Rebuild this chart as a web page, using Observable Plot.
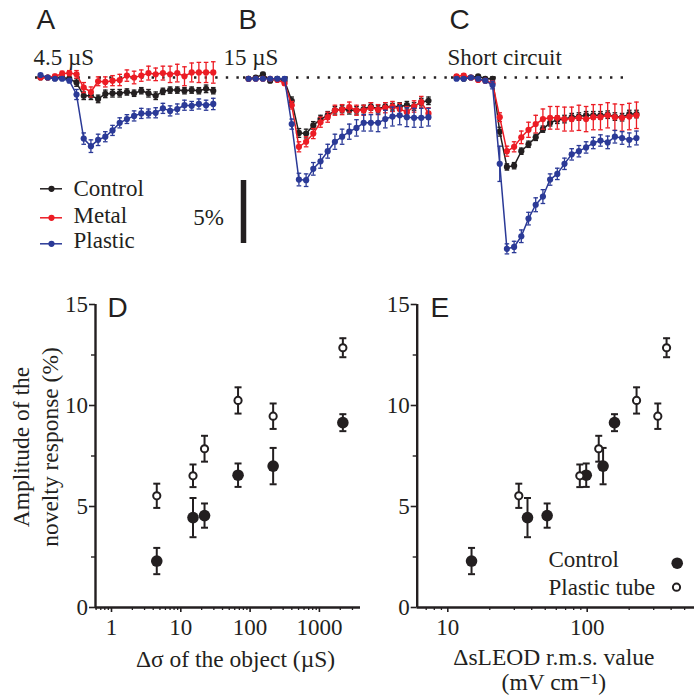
<!DOCTYPE html>
<html>
<head>
<meta charset="utf-8">
<script src="https://cdn.jsdelivr.net/npm/d3@7"></script>
<script src="https://cdn.jsdelivr.net/npm/@observablehq/plot@0.6"></script>
<style>
  html, body { margin: 0; padding: 0; background: #fff; overflow: hidden; }
  #fig { position: relative; width: 694px; height: 698px; background: #fff; }
  #fig svg { position: absolute; max-width: none; }
</style>
</head>
<body>
<div id="fig"></div>
<script>
// ---------------- Data: panels A–C (time course, % change) ----------------
const seriesNames = ["Control", "Metal", "Plastic"];
const seriesColors = ["#231f20", "#ec1c24", "#2b3a97"];
const panelIds = ["A", "B", "C"];
const panelConditions = ["4.5 µS", "15 µS", "Short circuit"];

const ctrlA = [0, 0, -0.05, 0, -0.1, -0.4, -1.45, -1.45, -1.7, -1.3, -1.25, -1.25, -1.15, -1.25, -1.05, -1.25, -1.45, -1.1, -1.0, -1.0, -1.05, -1.0, -1.05, -0.9, -1.05];
const ctrlAErr = [0.1, 0.1, 0.1, 0.1, 0.15, 0.3, 0.3, 0.3, 0.3, 0.3, 0.3, 0.3, 0.25, 0.25, 0.25, 0.3, 0.3, 0.25, 0.25, 0.25, 0.25, 0.25, 0.25, 0.3, 0.25];
const metalA = [0, 0, 0.1, 0.3, 0.35, 0.25, -0.8, -1.15, -0.3, -0.35, -0.25, -0.2, 0.15, 0, 0.15, 0.35, 0.25, 0.35, 0.25, 0.35, 0.1, 0.4, 0.4, 0.4, 0.4];
const metalAErr = [0.15, 0.15, 0.15, 0.2, 0.2, 0.3, 0.4, 0.4, 0.35, 0.4, 0.4, 0.45, 0.45, 0.5, 0.45, 0.55, 0.5, 0.55, 0.65, 0.7, 0.75, 0.75, 0.8, 0.8, 0.85];
const plasticA = [0.2, 0, -0.1, -0.1, -0.25, -1.35, -4.85, -5.45, -4.95, -4.7, -4.2, -3.6, -3.3, -3.05, -2.85, -2.85, -2.8, -2.45, -2.65, -2.5, -2.2, -2.25, -2.1, -2.2, -2.1];
const plasticAErr = [0.1, 0.1, 0.1, 0.1, 0.15, 0.4, 0.45, 0.5, 0.45, 0.4, 0.4, 0.4, 0.35, 0.4, 0.4, 0.35, 0.4, 0.4, 0.4, 0.4, 0.4, 0.35, 0.4, 0.4, 0.45];

const ctrlB = [-0.1, 0, 0.25, -0.25, -0.1, -0.25, -1.85, -4.4, -4.45, -3.8, -3.3, -3.0, -2.6, -2.5, -2.6, -2.6, -2.5, -2.3, -2.5, -2.3, -2.35, -2.3, -2.2, -2.3, -1.95, -1.85];
const ctrlBErr = [0.1, 0.1, 0.15, 0.15, 0.1, 0.15, 0.3, 0.35, 0.35, 0.3, 0.3, 0.3, 0.3, 0.3, 0.3, 0.3, 0.3, 0.3, 0.3, 0.3, 0.3, 0.3, 0.3, 0.3, 0.3, 0.3];
const metalB = [-0.1, -0.1, -0.1, -0.1, -0.2, -0.45, -2.2, -5.5, -5.1, -4.45, -3.55, -3.15, -2.6, -2.55, -2.35, -2.6, -2.6, -2.4, -2.55, -2.4, -2.3, -2.5, -2.75, -2.3, -1.95, -2.85];
const metalBErr = [0.1, 0.1, 0.1, 0.1, 0.1, 0.15, 0.3, 0.4, 0.4, 0.4, 0.4, 0.4, 0.4, 0.4, 0.4, 0.4, 0.4, 0.4, 0.4, 0.4, 0.4, 0.45, 0.45, 0.45, 0.45, 0.45];
const plasticB = [-0.1, -0.1, -0.1, -0.1, -0.1, -0.1, -3.7, -8.1, -8.15, -7.25, -6.65, -5.85, -5.1, -4.7, -4.3, -4.0, -3.6, -3.6, -3.6, -3.3, -3.1, -3.0, -3.15, -3.2, -3.2, -3.15];
const plasticBErr = [0.1, 0.1, 0.1, 0.1, 0.1, 0.15, 0.4, 0.5, 0.5, 0.5, 0.55, 0.55, 0.6, 0.6, 0.6, 0.65, 0.65, 0.65, 0.7, 0.7, 0.75, 0.75, 0.75, 0.75, 0.75, 0.7];

const ctrlC = [0, -0.1, 0, 0.1, -0.1, -0.1, -4.3, -7.1, -7.0, -5.85, -5.3, -4.75, -4.1, -3.6, -3.35, -3.3, -3.15, -3.1, -3.0, -3.0, -3.0, -2.95, -3.1, -3.15, -2.9, -2.9];
const ctrlCErr = [0.1, 0.1, 0.1, 0.1, 0.1, 0.15, 0.35, 0.25, 0.25, 0.25, 0.25, 0.25, 0.25, 0.25, 0.3, 0.3, 0.3, 0.3, 0.3, 0.3, 0.3, 0.3, 0.3, 0.3, 0.3, 0.3];
const metalC = [0.1, 0.15, 0, -0.2, -0.25, -0.45, -3.15, -5.85, -5.5, -4.75, -4.15, -3.7, -3.3, -3.2, -3.2, -3.3, -3.3, -3.2, -3.3, -3.15, -3.15, -3.0, -3.15, -3.2, -3.1, -3.0];
const metalCErr = [0.1, 0.15, 0.1, 0.1, 0.15, 0.15, 0.35, 0.4, 0.4, 0.5, 0.6, 0.7, 0.8, 0.9, 0.9, 0.95, 0.95, 1.0, 1.0, 1.0, 1.0, 1.0, 1.05, 1.05, 1.05, 1.05];
const plasticC = [-0.1, -0.1, 0, -0.1, -0.25, -0.6, -6.85, -13.6, -13.45, -12.6, -11.2, -10.1, -9.45, -8.1, -7.65, -6.85, -6.1, -5.85, -5.55, -5.2, -5.0, -5.15, -4.7, -4.8, -4.95, -4.8];
const plasticCErr = [0.1, 0.1, 0.1, 0.1, 0.15, 0.3, 1.4, 0.4, 0.45, 0.5, 0.5, 0.55, 0.55, 0.45, 0.45, 0.45, 0.45, 0.45, 0.45, 0.45, 0.45, 0.5, 0.5, 0.5, 0.55, 0.55];

// ---------------- Data: panels D–E ----------------
const groupNames = ["Control", "Plastic tube"];
const deltaSigma = [4.5, 15, 22, 67, 215, 2180];
const controlAmp = [2.3, 4.45, 4.55, 6.55, 7.0, 9.15];
const controlErr = [0.65, 0.97, 0.6, 0.58, 0.9, 0.42];
const plasticAmp = [5.53, 6.52, 7.86, 10.25, 9.47, 12.86];
const plasticErr = [0.6, 0.56, 0.64, 0.65, 0.63, 0.47];
const controlLEOD = [14.8, 37.3, 51.6, 98.4, 130, 157];
const plasticLEOD = [32.3, 88.5, 121, 226, 321, 371];
const yTicks = [0, 5, 10, 15];
const yMinorTicks = [2.5, 7.5, 12.5];
const dTicks = [1, 10, 100, 1000];
const eTicks = [10, 100];

// ---------------- Build tables ----------------
const traceSource = {
  A: {Control: [ctrlA, ctrlAErr], Metal: [metalA, metalAErr], Plastic: [plasticA, plasticAErr]},
  B: {Control: [ctrlB, ctrlBErr], Metal: [metalB, metalBErr], Plastic: [plasticB, plasticBErr]},
  C: {Control: [ctrlC, ctrlCErr], Metal: [metalC, metalCErr], Plastic: [plasticC, plasticCErr]}
};
const traceRows = [];
for (const p of panelIds) for (const s of seriesNames) {
  const [vals, errs] = traceSource[p][s];
  vals.forEach((v, i) => traceRows.push({panel: p, series: s, i, v, e: errs[i]}));
}
const scatterRows = [
  ...deltaSigma.map((s, k) => ({group: groupNames[0], sigma: s, leod: controlLEOD[k], amp: controlAmp[k], err: controlErr[k]})),
  ...deltaSigma.map((s, k) => ({group: groupNames[1], sigma: s, leod: plasticLEOD[k], amp: plasticAmp[k], err: plasticErr[k]}))
];

const ink = "#231f20";
const serif = "Liberation Serif, DejaVu Serif, serif";
const sans = "Liberation Sans, Arial, sans-serif";
const baseStyle = {fontFamily: serif, fontSize: "23px", color: ink, background: "transparent", overflow: "visible"};
const T = {fontFamily: serif, fill: ink};
const capSymbol = {draw(ctx, size) { const r = Math.sqrt(size / Math.PI); ctx.moveTo(-r, 0); ctx.lineTo(r, 0); }};

// ---------------- Top: panels A–C ----------------
const TW = 694, TH = 270, TML = 35, TMR = 35;
const X0 = -0.7, X1 = 28.2;
const pxPerPct = 12.6;
const Y1 = 77 / pxPerPct, Y0 = Y1 - TH / pxPerPct;
const facetW = (TW - TML - TMR) / panelIds.length;
const kx = facetW / (X1 - X0);
const ky = TH / (Y1 - Y0);
const px2x = (k, px) => X0 + (px - TML - k * facetW) / kx;
const py2y = py => Y1 - py / ky;

const letterRows = panelIds.map((p, k) => ({panel: p, label: p, x: px2x(k, [36, 238, 449][k]), y: py2y(9)}));
const condRows = panelIds.map((p, k) => ({panel: p, label: panelConditions[k], x: px2x(k, [33, 223, 447][k]), y: py2y(64)}));
const baseRows = panelIds.map((p, k) => ({panel: p, x1: X0, x2: k === 2 ? px2x(2, 627) : X1}));
const legendRows = seriesNames.map((s, k) => ({panel: "A", series: s, ySym: py2y([188.3, 217.3, 243.3][k]), yTxt: py2y([195, 222.7, 247.3][k])}));

const seriesMarks = seriesNames.flatMap(s => {
  const rows = traceRows.filter(d => d.series === s);
  return [
    Plot.ruleX(rows, {fx: "panel", x: "i", y1: d => d.v - d.e, y2: d => d.v + d.e, stroke: "series", strokeWidth: 1.3}),
    Plot.dot(rows, {fx: "panel", x: "i", y: d => d.v - d.e, symbol: capSymbol, r: 2.3, stroke: "series", strokeWidth: 1.3}),
    Plot.dot(rows, {fx: "panel", x: "i", y: d => d.v + d.e, symbol: capSymbol, r: 2.3, stroke: "series", strokeWidth: 1.3}),
    Plot.line(rows, {fx: "panel", x: "i", y: "v", stroke: "series", strokeWidth: 1.5}),
    Plot.dot(rows, {fx: "panel", x: "i", y: "v", fill: "series", r: 3.1})
  ];
});

const topPlot = Plot.plot({
  width: TW, height: TH, marginLeft: TML, marginRight: TMR, marginTop: 0, marginBottom: 0,
  fx: {domain: panelIds, padding: 0, axis: null, label: null},
  x: {domain: [X0, X1], axis: null},
  y: {domain: [Y0, Y1], axis: null},
  color: {domain: seriesNames, range: seriesColors},
  style: baseStyle,
  marks: [
    Plot.ruleY(baseRows, {fx: "panel", y: 0, x1: "x1", x2: "x2", stroke: ink, strokeWidth: 2.4, strokeDasharray: "2.4 8.2"}),
    ...seriesMarks,
    Plot.text(letterRows, {fx: "panel", x: "x", y: "y", text: "label", textAnchor: "start", lineAnchor: "top", fontFamily: sans, fontSize: 28, fill: ink}),
    Plot.text(condRows, {...T, fx: "panel", x: "x", y: "y", text: "label", textAnchor: "start", lineAnchor: "bottom", fontSize: 23}),
    Plot.ruleY(legendRows, {fx: "panel", y: "ySym", x1: px2x(0, 40), x2: px2x(0, 62), stroke: "series", strokeWidth: 1.5}),
    Plot.dot(legendRows, {fx: "panel", x: px2x(0, 51), y: "ySym", fill: "series", r: 3.1}),
    Plot.text(legendRows, {...T, fx: "panel", x: px2x(0, 73), y: "yTxt", text: "series", textAnchor: "start", lineAnchor: "bottom", fontSize: 23}),
    Plot.ruleX([{panel: "A"}], {fx: "panel", x: px2x(0, 243), y1: py2y(180), y2: py2y(180) - 5, stroke: ink, strokeWidth: 5.5}),
    Plot.text([{panel: "A"}], {...T, fx: "panel", x: px2x(0, 223.5), y: py2y(224), text: () => "5%", textAnchor: "end", lineAnchor: "bottom", fontSize: 23})
  ]
});

// ---------------- Bottom: panels D & E ----------------
function minorLogTicks([lo, hi]) {
  const t = [];
  for (let e = Math.floor(Math.log10(lo)); e <= Math.ceil(Math.log10(hi)); e++)
    for (let m = 2; m <= 9; m++) { const v = m * 10 ** e; if (v >= lo && v <= hi) t.push(v); }
  return t;
}
function axisMarks(domain, major) {
  return [
    Plot.axisY({ticks: yTicks, tickSize: 6, tickPadding: 1.5, label: null, strokeWidth: 1.6, fontSize: 23, fontFamily: serif, fill: ink}),
    Plot.axisY({ticks: yMinorTicks, tickSize: 4, tickFormat: () => "", label: null, strokeWidth: 1.4}),
    Plot.axisX({ticks: major, tickSize: 5, tickPadding: 6, tickFormat: d => String(d), label: null, strokeWidth: 1.6, fontSize: 23, fontFamily: serif, fill: ink}),
    Plot.axisX({ticks: minorLogTicks(domain), tickSize: 3, tickFormat: () => "", label: null, strokeWidth: 1.3}),
    Plot.ruleX([domain[0]], {stroke: ink, strokeWidth: 2.4}),
    Plot.ruleY([0], {stroke: ink, strokeWidth: 2.4})
  ];
}
function scatterMarks(xField) {
  const ctrl = scatterRows.filter(d => d.group === groupNames[0]);
  const plas = scatterRows.filter(d => d.group === groupNames[1]);
  return [
    Plot.ruleX(scatterRows, {x: xField, y1: d => d.amp - d.err, y2: d => d.amp + d.err, stroke: ink, strokeWidth: 2}),
    Plot.dot(scatterRows, {x: xField, y: d => d.amp - d.err, symbol: capSymbol, r: 3.5, stroke: ink, strokeWidth: 2}),
    Plot.dot(scatterRows, {x: xField, y: d => d.amp + d.err, symbol: capSymbol, r: 3.5, stroke: ink, strokeWidth: 2}),
    Plot.dot(ctrl, {x: xField, y: "amp", r: 5.8, fill: ink}),
    Plot.dot(plas, {x: xField, y: "amp", r: 3.6, fill: "white", stroke: ink, strokeWidth: 2})
  ];
}

const dDomain = [10 ** ((95 - 111) / 69.3), 10 ** ((360 - 111) / 69.3)];
const dPlot = Plot.plot({
  width: 365, height: 418, marginLeft: 95, marginRight: 5, marginTop: 24, marginBottom: 91,
  x: {type: "log", domain: dDomain},
  y: {domain: [0, 15]},
  style: baseStyle,
  marks: [
    ...axisMarks(dDomain, dTicks),
    ...scatterMarks("sigma"),
    Plot.text(["D"], {frameAnchor: "top-left", dx: 12, dy: -7, textAnchor: "start", lineAnchor: "top", fontFamily: sans, fontSize: 28, fill: ink}),
    Plot.text(["Amplitude of the\nnovelty response (%)"], {...T, frameAnchor: "left", rotate: -90, dx: -61.5, dy: -9, textAnchor: "middle", lineAnchor: "middle", lineHeight: 1.26, fontSize: 23.5}),
    Plot.text(["Δσ of the object (µS)"], {...T, frameAnchor: "bottom", dx: 7.5, dy: 59, textAnchor: "middle", lineAnchor: "bottom", fontSize: 23.5})
  ]
});

const eDomain = [10 ** (1 + (416.7 - 447.3) / 139.4), 10 ** (1 + (694 - 447.3) / 139.4)];
const ex = px => 10 ** (1 + (px - 447.3) / 139.4);
const ay = py => (607 - py) / 20.2;
const ePlot = Plot.plot({
  width: 364, height: 418, marginLeft: 86.7, marginRight: 0, marginTop: 24, marginBottom: 91,
  x: {type: "log", domain: eDomain},
  y: {domain: [0, 15]},
  style: baseStyle,
  marks: [
    ...axisMarks(eDomain, eTicks),
    ...scatterMarks("leod"),
    Plot.text(["E"], {frameAnchor: "top-left", dx: 13.3, dy: -7, textAnchor: "start", lineAnchor: "top", fontFamily: sans, fontSize: 28, fill: ink}),
    Plot.text(["ΔsLEOD r.m.s. value\n(mV cm⁻¹)"], {...T, frameAnchor: "bottom", dx: -2, dy: 82, textAnchor: "middle", lineAnchor: "bottom", lineHeight: 1.05, fontSize: 23.5}),
    Plot.text(groupNames, {...T, x: ex(548), y: (d, k) => ay([566.7, 594][k]), text: d => d, textAnchor: "start", lineAnchor: "bottom", fontSize: 23}),
    Plot.dot([groupNames[0]], {x: ex(676.7), y: ay(562.7), r: 5.8, fill: ink}),
    Plot.dot([groupNames[1]], {x: ex(676), y: ay(586.7), r: 3.6, fill: "white", stroke: ink, strokeWidth: 2})
  ]
});

const fig = document.getElementById("fig");
function place(el, left, top) {
  el.style.position = "absolute";
  el.style.left = left + "px";
  el.style.top = top + "px";
  el.style.maxWidth = "none";
  fig.appendChild(el);
}
place(topPlot, 0, 0);
place(dPlot, 0, 280);
place(ePlot, 330, 280);
</script>
</body>
</html>
